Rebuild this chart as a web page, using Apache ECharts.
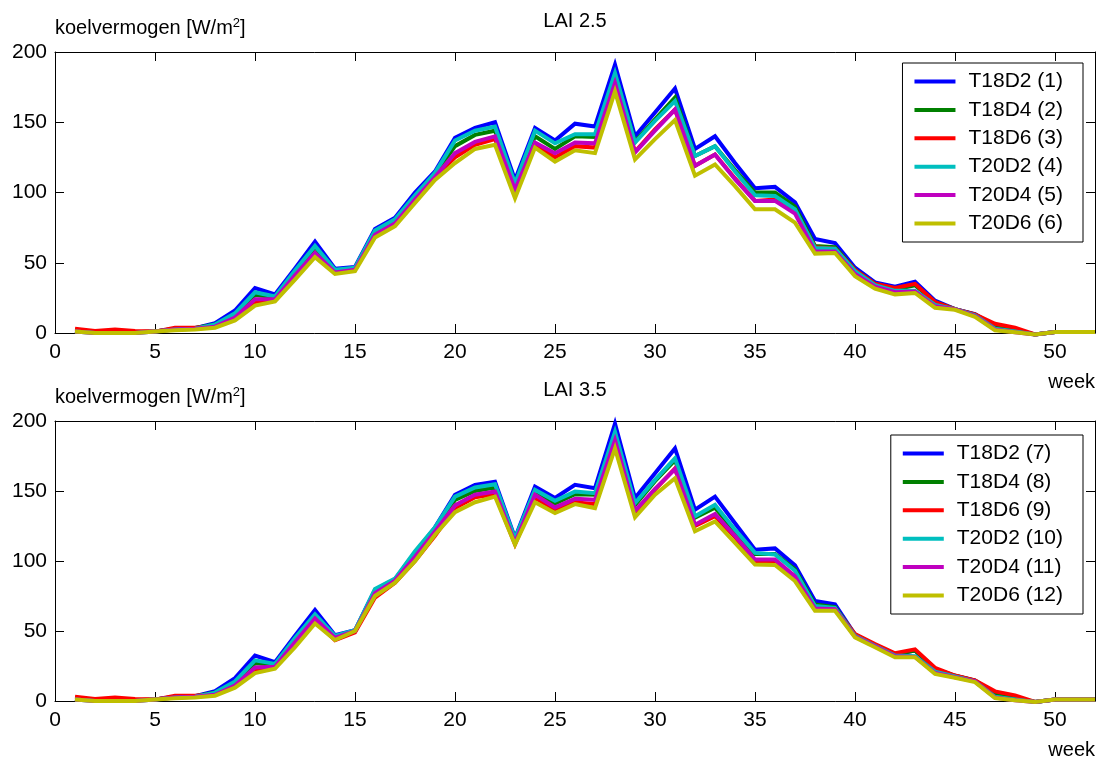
<!DOCTYPE html>
<html><head><meta charset="utf-8">
<script src="https://cdn.jsdelivr.net/npm/echarts@6/dist/echarts.min.js"></script>
<style>html,body{margin:0;padding:0;background:#fff}#c{width:1099px;height:760px}</style>
</head><body><div id="c"></div>
<script>
const weeks = [1,2,3,4,5,6,7,8,9,10,11,12,13,14,15,16,17,18,19,20,21,22,23,24,25,26,27,28,29,30,31,32,33,34,35,36,37,38,39,40,41,42,43,44,45,46,47,48,49,50,51,52];

const titleTop = 'LAI 2.5';
const titleBottom = 'LAI 3.5';
const namesTop = ['T18D2 (1)','T18D4 (2)','T18D6 (3)','T20D2 (4)','T20D4 (5)','T20D6 (6)'];
const namesBottom = ['T18D2 (7)','T18D4 (8)','T18D6 (9)','T20D2 (10)','T20D4 (11)','T20D6 (12)'];

// LAI 2.5
const t18d2_1 = [1.5,0.5,0.5,0.5,1,3,3.5,7,16,32,27.5,46,65,45.8,47,74,82,100,115,139,146,150,109,146,137,149,147,191,140,157,174,131,140,121,103,104,93,67,64,46.5,36,33,36.5,23,17,13.5,5,2,-1,0.7,0.7,0.7];
const t18d4_2 = [1.5,0.5,0.5,0.5,1,3,3.5,6,13,27,25.5,43,61,44.5,46,72.5,80,97,113,133,141,144,105,140,131,140,139.5,184,136,152,167.5,126,133,116,100,100,90,62,61,45,35,31,34,22,17,13,5,2,-1,0.7,0.7,0.7];
const t18d6_3 = [3,1.5,2.5,1.5,1,3.8,3.8,5,11,22,24,40,56,43,45,70,78,95,111,125,134,138,102,134,125,133,132,178,129,145,159,119,127,110,94,95,87,61,60,45,35,32,35,22,17,13.3,6.6,3.8,-1,0.7,0.7,0.7];
const t20d2_4 = [1,0,0,0,1,2.5,3,6,14,29,26,44.5,62,45,46.5,73,81,98,114,137,144,147,106.5,144,135,141.5,141.5,185,135.5,151,165,126,133,115,98,97.5,88,60.5,60,44,34,30,30,20,17,12.5,3,1,-1,0.7,0.7,0.7];
const t20d4_5 = [1,0,0,0,1,2.5,3,4.5,11,24,24,41,57,43,45,70,78,95,111,128,136,140,102,135.5,128,135.5,135,178,128.5,144,159,119,127,109.5,94,94,85,58,58,42,33,29,29.5,19,17,12,2.5,0.5,-1,0.7,0.7,0.7];
const t20d6_6 = [1,0,0,0,1,2,2.5,3.8,9,19.5,22.5,38,54,42,44,68,76,92.5,109,121,131,134,96,132,122,130,128,172,123.5,138,151.5,112,120,104.5,88,88,78.5,56.5,57,40.5,31.5,27.5,28.5,18,16.5,11.5,2,0.5,-1,0.7,0.7,0.7];

// LAI 3.5
const t18d2_7 = [1.5,0.5,0.5,0.5,1,3,3.5,7,16.3,32.4,27.7,46.6,65,47,50.5,79.5,87,106,124,147.3,154.4,156.7,116.5,153.2,145,154.4,152,198,145,162.6,180.4,136.6,146,127,108,109,97,71.5,69,47.5,40,33.5,36,23,18,14.5,5,2,-0.7,1,1,1];
const t18d4_8 = [1.5,0.5,0.5,0.5,1,3,3.5,6,13,27,26,44,61,45.5,50,78,86.5,105,122,143.7,150,152.5,115,149,141,147.7,147.3,190,140,157,172,131,138,121,105,105,94,69,67,47,40,33.5,36,23,18,14.5,5.5,2.5,-0.7,1,1,1];
const t18d6_9 = [3,1.5,2.5,1.5,1,3.8,3.8,5,11,22,24,40,57,43.5,49,73.9,84.5,100,118,137.8,145.5,147.7,112,145,137,142,140.6,185,134.5,151,166,125,132,117,100,100,89,66,66,47.8,40.7,34.1,36.9,23.7,18.2,14.7,6.9,4,-0.7,1,1,1];
const t20d2_10 = [1,0,0,0,1,2.5,3,6,14,29,26.5,45,62,46.5,50.5,80,87.4,107,124,146,152.5,154.8,116,150.8,143,149.6,148.4,192.2,141.3,157.9,173.3,131.9,140.2,122.4,105.8,104.6,93,67.9,66.5,46.5,39.5,32.5,32,21,17.5,14,3,1,-0.7,1,1,1];
const t20d4_11 = [1,0,0,0,1,2.5,3,4.5,11,24,24.5,42,59,45,50,77,86,103,121,139.7,147.3,149.6,113,147.3,138.3,144.4,143.7,186.3,135.9,151.5,165.7,125.9,133.5,118,101.1,101,89,66,65.5,46,39,32,31.5,20,17,14,2.5,0.5,-0.7,1,1,1];
const t20d6_12 = [1,0,0,0,1,2,2.5,3.8,9.5,19.9,23,38.4,55.4,43.6,50,75,84.5,99.9,118.8,134.9,142,146,111.7,142,134.2,140.6,137.8,180.4,131.2,147.3,159.1,121.2,128.3,112.9,97.5,97.1,85.7,64.4,64.4,45.5,38.4,31.3,31.3,19.4,16.6,13.5,2.1,0.5,-0.7,1,1,1];

const valsTop = [t18d2_1, t18d4_2, t18d6_3, t20d2_4, t20d4_5, t20d6_6];
const valsBottom = [t18d2_7, t18d4_8, t18d6_9, t20d2_10, t20d4_11, t20d6_12];

const colors = ['#0000FF','#008000','#FF0000','#00BFBF','#BF00BF','#BFBF00'];
const FONT = '"Liberation Sans", Arial, Helvetica, sans-serif';

function mkSeries(name, vals, color, axisIdx) {
  return {
    type: 'line', name: name, xAxisIndex: axisIdx, yAxisIndex: axisIdx,
    data: weeks.map((w, i) => [w, vals[i]]),
    showSymbol: false, symbol: 'none', clip: false, animation: false,
    lineStyle: { width: 4, color: color, join: 'miter', cap: 'butt' },
    itemStyle: { color: color }
  };
}

function xAx(gridIndex, pos, title) {
  const bottom = pos === 'bottom';
  return {
    type: 'value', gridIndex: gridIndex, position: pos, min: 0, max: 52, interval: 5,
    axisLine: { show: true, onZero: false, lineStyle: { color: '#000', width: 1 } },
    axisTick: { show: true, inside: true, length: 9, lineStyle: { color: '#000' } },
    axisLabel: { show: bottom, margin: 9, fontSize: 21, color: '#000', fontFamily: FONT,
      formatter: v => (v % 5 === 0 ? String(v) : '') },
    splitLine: { show: false },
    name: bottom ? 'week' : title,
    nameLocation: bottom ? 'end' : 'middle',
    nameGap: bottom ? 0 : 21,
    nameTextStyle: bottom
      ? { fontSize: 20, color: '#000', fontFamily: FONT, align: 'right', verticalAlign: 'top', padding: [39, 0, 0, 0] }
      : { fontSize: 20, color: '#000', fontFamily: FONT }
  };
}

function yAx(gridIndex, pos) {
  const left = pos === 'left';
  return {
    type: 'value', gridIndex: gridIndex, position: pos, min: 0, max: 200, interval: 50,
    axisLine: { show: true, onZero: false, lineStyle: { color: '#000', width: 1 } },
    axisTick: { show: true, inside: true, length: 9, lineStyle: { color: '#000' } },
    axisLabel: { show: left, margin: 8, fontSize: 21, color: '#000', fontFamily: FONT },
    splitLine: { show: false },
    name: left ? 'koelvermogen [W/m{sup|2}]' : '',
    nameLocation: 'end', nameGap: 24,
    nameTextStyle: { fontSize: 20, color: '#000', fontFamily: FONT, align: 'left', verticalAlign: 'middle',
      rich: { sup: { fontSize: 13, color: '#000', fontFamily: FONT, verticalAlign: 'bottom', padding: [0, 0, 9, 0] } } }
  };
}

function mkLegend(names, top) {
  return {
    data: names, orient: 'vertical', right: 16, top: top,
    icon: 'rect', itemWidth: 41, itemHeight: 4, itemGap: 7.4,
    padding: [8, 20, 8, 12],
    borderColor: '#000', borderWidth: 1, backgroundColor: '#fff', borderRadius: 0,
    selectedMode: false,
    textStyle: { fontSize: 21, color: '#000', fontFamily: FONT, lineHeight: 21, padding: [0, 0, 0, 8] }
  };
}

const series = [];
namesTop.forEach((n, i) => series.push(mkSeries(n, valsTop[i], colors[i], 0)));
namesBottom.forEach((n, i) => series.push(mkSeries(n, valsBottom[i], colors[i], 2)));

const chart = echarts.init(document.getElementById('c'), null, { renderer: 'canvas' });
chart.setOption({
  animation: false,
  backgroundColor: '#fff',
  textStyle: { fontFamily: FONT },
  grid: [
    { left: 55, right: 4, top: 52, height: 281 },
    { left: 55, right: 4, top: 421, height: 281 }
  ],
  xAxis: [xAx(0, 'bottom'), xAx(0, 'top', titleTop), xAx(1, 'bottom'), xAx(1, 'top', titleBottom)],
  yAxis: [yAx(0, 'left'), yAx(0, 'right'), yAx(1, 'left'), yAx(1, 'right')],
  legend: [mkLegend(namesTop, 63), mkLegend(namesBottom, 435)],
  series: series
});
</script>
</body></html>
